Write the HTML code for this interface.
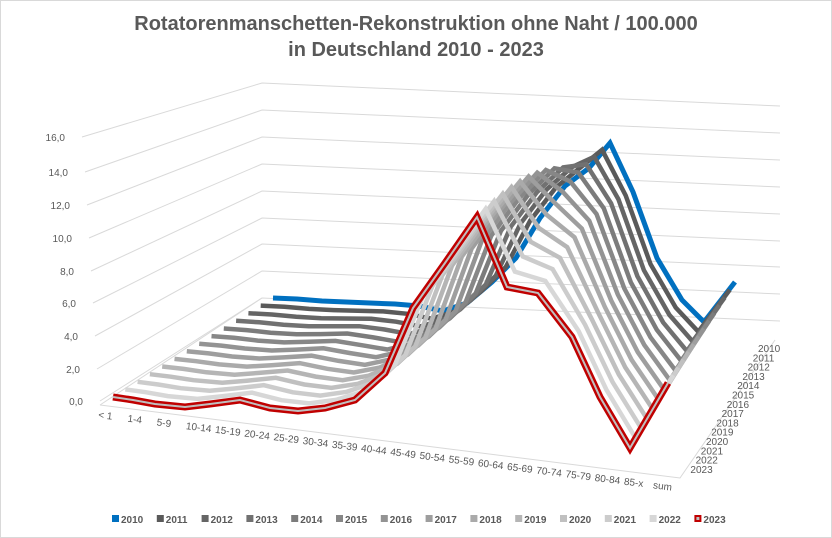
<!DOCTYPE html>
<html><head><meta charset="utf-8"><style>
body{margin:0;background:#fff;font-family:"Liberation Sans",sans-serif;}
svg{display:block}
</style></head><body>
<svg id="s" width="832" height="538" viewBox="0 0 832 538" xmlns="http://www.w3.org/2000/svg">
<rect x="0.5" y="0.5" width="831" height="537" fill="#fff" stroke="#d9d9d9"/>
<text x="416" y="30" text-anchor="middle" font-size="20" font-weight="bold" fill="#595959">Rotatorenmanschetten-Rekonstruktion ohne Naht / 100.000</text>
<text x="416" y="56" text-anchor="middle" font-size="20" font-weight="bold" fill="#595959">in Deutschland 2010 - 2023</text>
<g id="grid" stroke="#d9d9d9" stroke-width="1" fill="none"></g>
<g id="ylab" font-size="10" fill="#595959" text-anchor="end"></g>
<g id="lines" fill="none" stroke-linejoin="miter"></g>
<g id="xlab" font-size="10" fill="#595959"></g>
<g id="zlab" font-size="10" fill="#595959"></g>
<g id="leg" font-size="10" font-weight="bold" fill="#595959"></g>
</svg>
<script>
var NS="http://www.w3.org/2000/svg";
function el(p,n,a,t){var e=document.createElementNS(NS,n);for(var k in a)e.setAttribute(k,a[k]);if(t)e.textContent=t;document.getElementById(p).appendChild(e);return e;}
var lefts=[[95,401],[92,369],[90,336],[88,303],[86,271],[84,238],[82,205],[80,172],[77,137]];
var corner=[298,271,244,218,191,164,137,110,83];
var labs=["0,0","2,0","4,0","6,0","8,0","10,0","12,0","14,0","16,0"];
for(var i=0;i<9;i++){
 var l=lefts[i],cy=corner[i];
 el("grid","polyline",{points:(l[0]+5)+","+l[1]+" 262,"+cy+" 780,"+(cy+23)});
 el("ylab","text",{x:l[0]-12,y:l[1]+4},labs[i]);
}
el("grid","polyline",{points:"100,405 262,298"});
el("grid","polyline",{points:"100,405 680,478 775,340"});
var back=[[273,298],[297,299],[322,301],[346,302],[370,303],[395,304],[419,306],[443,311],[467,303],[492,282],[516,258],[540,218],[565,186],[589,168],[610,143],[633,192],[657,258],[682,300],[704,322],[735,282]];
var front=[[113,397],[133,400],[155,404],[185,407],[210,404],[240,400],[270,408],[298,411],[325,408],[355,400],[385,373],[413,308],[445,263],[477,217],[507,287],[538,293],[572,337],[600,397],[630,448],[668,383]];
var N=14;
for(var k=0;k<N;k++){
 var t=k/(N-1),pts=[];
 for(var i=0;i<20;i++){
  var x=back[i][0]+(front[i][0]-back[i][0])*t;
  var y=back[i][1]+(front[i][1]-back[i][1])*t;
  if(k>0&&k<N-1){var s=Math.sin(Math.PI*t);if(i>=11&&i<=15)y-=18*s;}
  pts.push(x.toFixed(1)+","+y.toFixed(1));
 }
 var p=pts.join(" ");
 if(k==0){el("lines","polyline",{points:p,stroke:"#0070c0","stroke-width":5});}
 else if(k==N-1){el("lines","polyline",{points:p,stroke:"#c00000","stroke-width":7});el("lines","polyline",{points:p,stroke:"#bfbfbf","stroke-width":2});}
 else{var g=Math.round(90+(215-90)*(k-1)/11);var c="rgb("+g+","+g+","+g+")";el("lines","polyline",{points:p,stroke:c,"stroke-width":4.5});}
}
var xl=["< 1","1-4","5-9","10-14","15-19","20-24","25-29","30-34","35-39","40-44","45-49","50-54","55-59","60-64","65-69","70-74","75-79","80-84","85-x","sum"];
for(var i=0;i<20;i++){var x=98+29.2*i,y=418+3.7*i;el("xlab","text",{x:x,y:y,transform:"rotate(7 "+x+" "+y+")"},xl[i]);}
for(var k=0;k<14;k++){var x=758-5.2*k,y=352+9.3*k;el("zlab","text",{x:x,y:y},String(2010+k));}
var lx=112;
for(var k=0;k<14;k++){
 var g=Math.round(90+125*(k-1)/11);
 var c=k==0?"#0070c0":k==13?"#c00000":"rgb("+g+","+g+","+g+")";
 el("leg","rect",{x:lx,y:515,width:7,height:7,fill:c});
 if(k==13)el("leg","rect",{x:lx+2,y:517,width:3,height:3,fill:"#bfbfbf"});
 el("leg","text",{x:lx+9,y:523},String(2010+k));
 lx+=44.8;
}
</script>
</body></html>
